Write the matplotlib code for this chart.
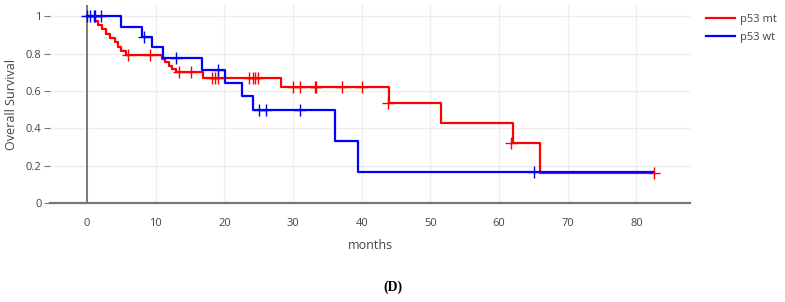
import matplotlib
matplotlib.use("Agg")
import matplotlib.pyplot as plt

# p53 mutant (red)
mt_times = [0, 1.2, 1.6, 2.2, 2.8, 3.4, 4.0, 4.5, 5.0, 5.6, 10.9, 11.4, 11.9, 12.4, 13.0,
            16.9, 28.2, 43.9, 51.5, 62.0, 65.9, 82.5]
mt_surv = [1.0, 0.977, 0.953, 0.930, 0.907, 0.884, 0.860, 0.837, 0.814, 0.791, 0.772, 0.753,
           0.735, 0.716, 0.700, 0.667, 0.622, 0.533, 0.427, 0.320, 0.160, 0.160]
mt_cens_t = [6.0, 9.1, 13.4, 15.1, 18.2, 18.6, 19.0, 23.6, 24.1, 24.5, 24.9,
             30.0, 31.0, 33.2, 33.3, 37.1, 40.0, 43.8, 61.8, 82.5]
mt_cens_s = [0.791, 0.791, 0.700, 0.700, 0.667, 0.667, 0.667, 0.667, 0.667, 0.667, 0.667,
             0.622, 0.622, 0.622, 0.622, 0.622, 0.622, 0.533, 0.320, 0.160]

# p53 wild type (blue)
wt_times = [0, 5.0, 8.0, 9.4, 11.1, 16.7, 20.1, 22.5, 24.1, 36.1, 39.5, 82.4]
wt_surv = [1.0, 0.944, 0.889, 0.833, 0.778, 0.714, 0.643, 0.571, 0.500, 0.333, 0.167, 0.167]
wt_cens_t = [0.05, 0.4, 1.0, 1.2, 2.0, 8.3, 13.0, 19.1, 25.1, 26.0, 31.0, 65.1]
wt_cens_s = [1.0, 1.0, 1.0, 1.0, 1.0, 0.889, 0.778, 0.714, 0.5, 0.5, 0.5, 0.167]

plt.rcParams['font.family'] = ['Open Sans', 'DejaVu Sans']
txt = '#444444'

fig = plt.figure(figsize=(7.85, 3.02), dpi=100)
ax = fig.add_axes([50 / 785, 1 - 203 / 302, 640 / 785, 198 / 302])

ax.step(mt_times, mt_surv, where='post', color='#ff0000', lw=1.6, label='p53 mt', zorder=3)
ax.plot(mt_cens_t, mt_cens_s, ls='none', marker='+', ms=8, mew=1.0, color='#ff0000', zorder=3)
ax.step(wt_times, wt_surv, where='post', color='#0000ff', lw=1.6, label='p53 wt', zorder=4)
ax.plot(wt_cens_t, wt_cens_s, ls='none', marker='+', ms=8, mew=1.0, color='#0000ff', zorder=4)

ax.set_xlim(-5.4, 87.8)
ax.set_ylim(0, 1.06)
ax.set_xticks(range(0, 90, 10))
ax.set_yticks([0, 0.2, 0.4, 0.6, 0.8, 1])
ax.set_yticklabels(['0', '0.2', '0.4', '0.6', '0.8', '1'])
ax.grid(True, color='#eeeeee', lw=1)
ax.set_axisbelow(True)
for s in ['top', 'right', 'left']:
    ax.spines[s].set_visible(False)
ax.spines['bottom'].set_color('#777777')
ax.spines['bottom'].set_linewidth(1.6)
ax.axvline(0, color='#666666', lw=1.2, zorder=2)
ax.tick_params(axis='x', length=0, labelsize=8, colors=txt, pad=11)
ax.tick_params(axis='y', length=4, labelsize=8, colors=txt, color='#777777', pad=2)

ax.set_xlabel('months', fontsize=9, color=txt, labelpad=7)
ax.set_ylabel('Overall Survival', fontsize=9, color=txt, labelpad=6)

ax.legend(loc='upper left', bbox_to_anchor=(696 / 785, 1 - 4 / 302), bbox_transform=fig.transFigure,
          frameon=False, fontsize=8, labelcolor=txt, handlelength=2.6, handletextpad=0.5,
          labelspacing=0.6)

fig.text(0.5, 1 - 287 / 302, '(D)', ha='center', va='center', fontsize=10,
         fontfamily='Liberation Serif', fontweight='bold', color='black')

fig.savefig('out.png', dpi=100)
